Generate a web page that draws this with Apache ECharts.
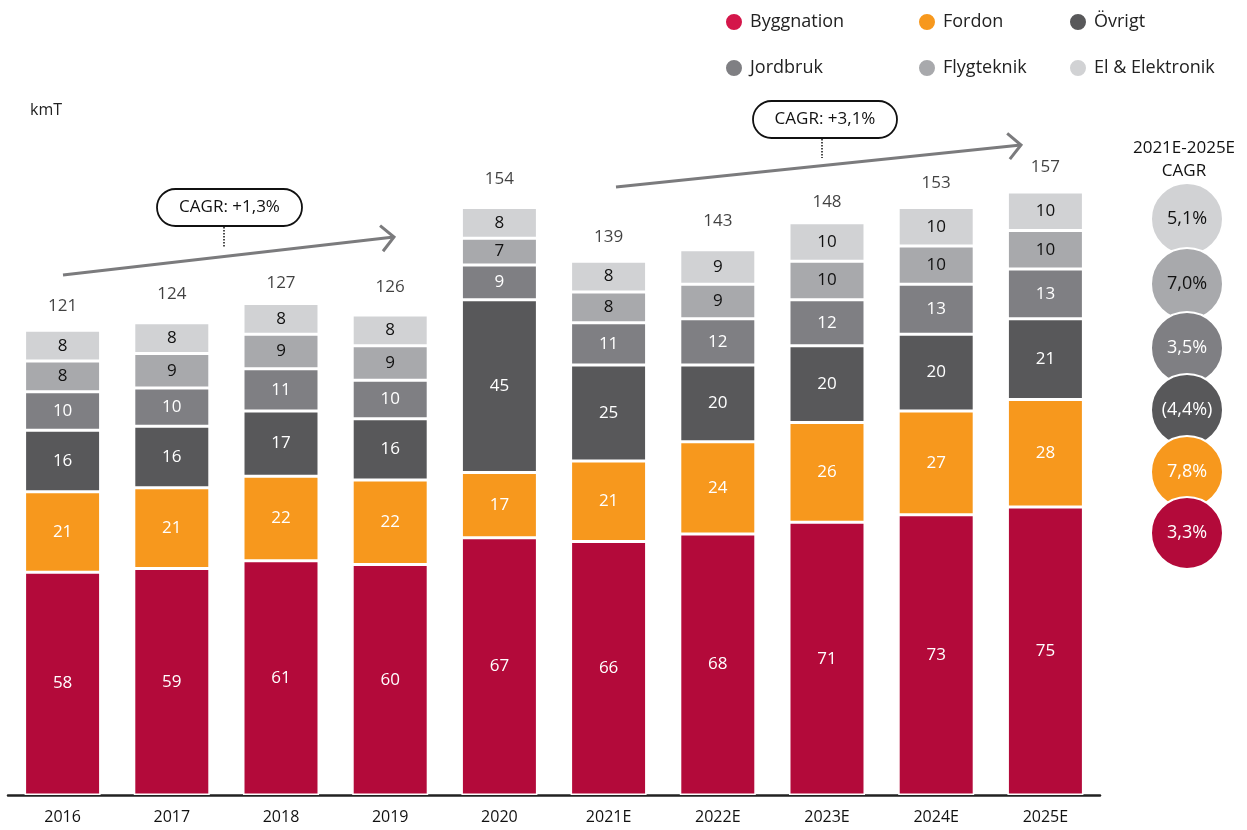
<!DOCTYPE html>
<html>
<head>
<meta charset="utf-8">
<script src="https://cdn.jsdelivr.net/npm/echarts@6/dist/echarts.min.js"></script>
<style>
html,body{margin:0;padding:0;background:#fff;}
#main{width:1247px;height:830px;}
</style>
</head>
<body>
<div id="main"></div>
<script>
const categories = ['2016','2017','2018','2019','2020','2021E','2022E','2023E','2024E','2025E'];
const byggnation = [58,59,61,60,67,66,68,71,73,75];
const fordon     = [21,21,22,22,17,21,24,26,27,28];
const ovrigt     = [16,16,17,16,45,25,20,20,20,21];
const jordbruk   = [10,10,11,10,9,11,12,12,13,13];
const flygteknik = [8,9,9,9,7,8,9,10,10,10];
const elektronik = [8,8,8,8,8,8,9,10,10,10];
const totals     = [121,124,127,126,154,139,143,148,153,157];
const seriesNames = ['Byggnation','Fordon','Övrigt','Jordbruk','Flygteknik','El & Elektronik'];
const cagrLabels = ['3,3%','7,8%','(4,4%)','3,5%','7,0%','5,1%'];
const periodCagr = ['CAGR: +1,3%','CAGR: +3,1%'];

const barColors = ['#B30A3A','#F7981D','#58585A','#7F7F83','#A8A9AC','#D1D2D4'];
const legendColors = ['#D4164A','#F7981D','#58585A','#7F7F83','#A8A9AC','#D1D2D4'];
const labelColors = ['#fff','#fff','#fff','#fff','#111','#111'];
const FONT = 'Open Sans';

const seriesData = [byggnation, fordon, ovrigt, jordbruk, flygteknik, elektronik];

const series = seriesData.map((d, i) => ({
  name: seriesNames[i],
  type: 'bar',
  stack: 'total',
  barWidth: 76,
  data: d,
  itemStyle: {color: barColors[i], borderColor: '#fff', borderWidth: 1.5},
  label: {show: true, position: 'inside', color: labelColors[i], fontFamily: FONT, fontSize: 17},
  emphasis: {disabled: true}
}));
series.push({
  type: 'scatter',
  data: totals.map((t, i) => [i, t]),
  symbolSize: 0,
  silent: true,
  label: {show: true, position: 'top', distance: 16, color: '#111', fontFamily: FONT, fontSize: 17, formatter: p => p.value[1]}
});

const legendPos = [[719,7],[912,7],[1063,7],[719,53],[912,53],[1063,53]];
const legends = seriesNames.map((n, i) => ({
  data: [{name: n, itemStyle: {color: legendColors[i]}}],
  left: legendPos[i][0], top: legendPos[i][1],
  icon: 'circle', itemWidth: 18, itemHeight: 18,
  selectedMode: false,
  textStyle: {fontFamily: FONT, fontSize: 18, color: '#222', padding: [0,0,0,2]}
}));

// annotations
const graphics = [];
graphics.push({type:'text', left: 30, top: 102, style:{text:'kmT', font:'16px "Open Sans"', fill:'#222'}});
function arrow(x1,y1,x2,y2){
  const ang = Math.atan2(y2-y1, x2-x1);
  const L = 18, a = 0.8;
  graphics.push({type:'line', shape:{x1,y1,x2,y2}, style:{stroke:'#7b7b7d', lineWidth:3}, z:10});
  graphics.push({type:'polyline', shape:{points:[
    [x2 - L*Math.cos(ang - a), y2 - L*Math.sin(ang - a)],
    [x2, y2],
    [x2 - L*Math.cos(ang + a), y2 - L*Math.sin(ang + a)]
  ]}, style:{stroke:'#7b7b7d', lineWidth:3, fill:null}, z:10});
}
function cagrBox(x, y, w, h, text, dx, dy2){
  graphics.push({type:'rect', shape:{x, y, width:w, height:h, r: h/2}, style:{fill:'#fff', stroke:'#111', lineWidth:1.8}, z:10});
  graphics.push({type:'text', x: x + w/2, y: y + h/2, style:{text, font:'17px "Open Sans"', fill:'#111', align:'center', verticalAlign:'middle'}, z:11});
  graphics.push({type:'line', shape:{x1:dx, y1:y+h+1, x2:dx, y2:dy2}, style:{stroke:'#111', lineWidth:1.5, lineDash:[1.5,1.5]}, z:10});
}
arrow(63,275,394,237);
arrow(616,187,1021,145);
cagrBox(157,189,145,37,periodCagr[0],224,247);
cagrBox(753,101,144,37,periodCagr[1],822,158);

graphics.push({type:'text', x:1184, y:148, style:{text:'2021E-2025E', font:'17px "Open Sans"', fill:'#111', align:'center', verticalAlign:'middle'}});
graphics.push({type:'text', x:1184, y:171, style:{text:'CAGR', font:'17px "Open Sans"', fill:'#111', align:'center', verticalAlign:'middle'}});
const circleY = [533,472,410,348,284,219];
const circleText = ['#fff','#fff','#fff','#fff','#111','#111'];
for (let k = 5; k >= 0; k--) {
  const z = 20 + (5 - k) * 2;
  graphics.push({type:'circle', shape:{cx:1187, cy:circleY[k], r:36}, style:{fill:barColors[k], stroke:'#fff', lineWidth:2}, z});
  graphics.push({type:'text', x:1187, y:circleY[k], style:{text:cagrLabels[k], font:'18px "Open Sans"', fill:circleText[k], align:'center', verticalAlign:'middle'}, z: z+1});
}

const chart = echarts.init(document.getElementById('main'), null, {renderer:'canvas'});
chart.setOption({
  animation: false,
  backgroundColor: '#fff',
  textStyle: {fontFamily: FONT},
  legend: legends,
  grid: {left: 8, width: 1092, top: 27, bottom: 35, containLabel: false},
  xAxis: {
    type: 'category', data: categories,
    axisLine: {lineStyle: {color: '#222', width: 2.5}},
    axisTick: {show: false},
    axisLabel: {color: '#111', fontSize: 16, fontFamily: FONT, margin: 14}
  },
  yAxis: {type: 'value', min: 0, max: 200, show: false, splitLine: {show: false}},
  series,
  graphic: graphics
});
</script>
</body>
</html>
